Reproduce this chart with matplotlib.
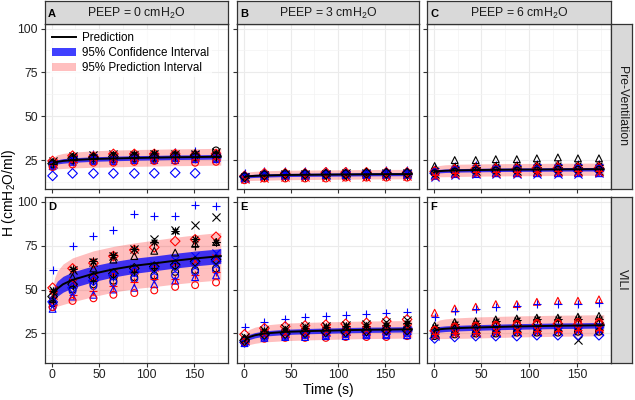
import numpy as np
import matplotlib
matplotlib.use("Agg")
import matplotlib.pyplot as plt
from matplotlib.lines import Line2D
from matplotlib.patches import Patch

plt.rcParams['font.family'] = ['Liberation Sans', 'DejaVu Sans']
plt.rcParams['mathtext.fontset'] = 'custom'
plt.rcParams['mathtext.rm'] = 'Liberation Sans'
plt.rcParams['mathtext.it'] = 'Liberation Sans:italic'

# observation times (s)
t_obs = [1, 22, 44, 65, 87, 108, 130, 151, 173]

# model curve sample times and values
t_curve = [1, 3, 6, 12, 22, 44, 65, 87, 110, 130, 150, 178]
pred_A = [22.8, 23.5, 24, 24.5, 25, 25.6, 25.9, 26.2, 26.4, 26.6, 26.7, 26.9]
pred_B = [15.3, 15.6, 15.8, 16.0, 16.2, 16.5, 16.6, 16.7, 16.8, 16.9, 16.95, 17.0]
pred_C = [18.2, 18.5, 18.7, 18.9, 19.1, 19.3, 19.45, 19.55, 19.6, 19.7, 19.75, 19.8]
pred_D = [45, 48, 50.5, 53, 55.5, 59, 61.5, 63.5, 65, 66.4, 67.6, 69]
pred_E = [20.5, 22, 23, 24, 25, 25.9, 26.3, 26.6, 26.9, 27.1, 27.2, 27.4]
pred_F = [26.5, 27, 27.4, 27.7, 28.0, 28.4, 28.7, 29.0, 29.2, 29.4, 29.5, 29.7]

# half widths of 95% confidence / prediction intervals
ci_A = [1.0, 1.1, 1.2, 1.3, 1.3, 1.3, 1.3, 1.3, 1.3, 1.3, 1.3, 1.3]
pi_A = [3.0, 3.6, 4.0, 4.3, 4.5, 4.7, 4.8, 4.8, 4.8, 4.8, 4.8, 4.8]
ci_B = [0.7, 0.8, 0.9, 0.9, 0.9, 0.9, 0.9, 0.9, 0.9, 0.9, 0.9, 0.9]
pi_B = [2.0, 2.3, 2.5, 2.6, 2.7, 2.7, 2.7, 2.7, 2.7, 2.7, 2.7, 2.7]
ci_C = [0.8, 0.9, 1.0, 1.0, 1.0, 1.0, 1.0, 1.0, 1.0, 1.0, 1.0, 1.0]
pi_C = [2.6, 3.0, 3.2, 3.4, 3.5, 3.5, 3.5, 3.5, 3.5, 3.5, 3.5, 3.5]
ci_D = [3.5, 4.0, 4.3, 4.5, 4.5, 4.5, 4.4, 4.3, 4.2, 4.2, 4.2, 4.2]
pi_D = [6.0, 8.5, 10.0, 11.5, 12.5, 13.0, 13.0, 13.0, 13.2, 13.3, 13.4, 13.5]
ci_E = [1.2, 1.4, 1.5, 1.5, 1.5, 1.5, 1.5, 1.5, 1.5, 1.5, 1.5, 1.5]
pi_E = [3.0, 3.8, 4.3, 4.6, 4.8, 5.0, 5.0, 5.0, 5.0, 5.0, 5.0, 5.0]
ci_F = [1.3, 1.5, 1.6, 1.6, 1.6, 1.6, 1.6, 1.6, 1.6, 1.6, 1.6, 1.6]
pi_F = [4.0, 4.8, 5.3, 5.6, 5.8, 6.0, 6.0, 6.0, 6.0, 6.0, 6.0, 6.0]

# subjects (marker, colour) per PEEP group
marks0 = [('+', 'blue'), ('x', 'black'), ('D', 'red'), ('*', 'black'), ('^', 'black'),
          ('x', 'blue'), ('x', 'red'), ('D', 'black'), ('o', 'black'), ('o', 'blue'),
          ('+', 'red'), ('^', 'blue'), ('o', 'red'), ('+', 'black'), ('D', 'blue')]
obs_A = [[24, 27, 28.5, 28, 28, 28.5, 29.5, 30, 29],
         [24.5, 27.5, 28, 28.5, 28, 28.5, 28.5, 28.5, 29.5],
         [24.5, 27.5, 27, 28.5, 28.5, 28.5, 28.5, 28, 28.5],
         [24, 27.5, 27, 28, 28.5, 29, 28.5, 28, 28.5],
         [23.5, 26.5, 27, 27.5, 28, 28, 28, 29, 28],
         [23, 25.5, 26, 26, 26.5, 26.5, 27, 27, 27],
         [23.5, 26, 25.5, 26.5, 27, 27, 27, 27.5, 27.5],
         [23, 26, 26.5, 27, 27, 27, 27.5, 27.5, 27.5],
         [22.5, 25, 25, 25.5, 26, 26, 26, 26.5, 30.5],
         [22, 24.5, 25, 25, 25.5, 25.5, 26, 26, 26],
         [22, 24, 25, 24.5, 25, 25.5, 25.5, 25.5, 25.5],
         [21.5, 24, 24.5, 24.5, 25, 25, 25, 25.5, 25.5],
         [21, 22.5, 23.5, 23.5, 24, 24.5, 24.5, 23.5, 24],
         [22.5, 25, 25.5, 26, 26, 26.5, 26.5, 26.5, 27],
         [16, 17.4, 17.4, 17.4, 17.4, 17.5, 17.8, 17.5, np.nan]]
obs_D = [[61, 75, 80.6, 83.9, 92.8, 91.8, 91.8, 98.1, 97.5],
         [50, 61, 65.5, 69, 73, 78.5, 84, 86.5, 91],
         [51, 62, 65, 69, 72.5, 74, 77.5, 78.5, 80],
         [49, 61.5, 66, 69.5, 73, 77, 83, 79, 77],
         [45, 57, 62, 67, 69, 72, 71, 76, 77],
         [44, 55, 58, 60, 62, 64, 67, 69, 71],
         [47, 54, 57, 59, 61, 63, 65, 66, 68],
         [46, 53, 57, 59, 62, 63, 64, 66, 67],
         [42, 50, 53, 55, 57, 58, 60, 61, 62],
         [40, 49, 52, 54, 56, 57, 58, 60, 61],
         [41, 47, 49, 52, 54, 56, 56, 58, 60],
         [39, 46, 47, 50, 51, 53, 55, 57, 58],
         [40, 43.5, 45, 47, 48, 49.5, 51.5, 52.5, 54],
         [43, 52, 55, 57, 60, 62, 65, 75, 77],
         [43, 51, 55, 58, 60, 62, 63, 65, 66]]

marks3 = [('+', 'blue'), ('D', 'red'), ('x', 'black'), ('^', 'black'), ('o', 'black'),
          ('+', 'red'), ('x', 'blue'), ('D', 'blue'), ('*', 'black'), ('o', 'red'),
          ('^', 'blue'), ('o', 'blue'), ('x', 'red'), ('D', 'black')]
obs_B = [[17.5, 18.5, 18.5, 19, 19, 19, 19, 19.5, 19.5],
         [16, 17.5, 17.5, 17.5, 18, 18, 18, 18, 18],
         [15.5, 16.5, 17, 17, 17, 17.5, 17.5, 17.5, 17.5],
         [16, 17, 17.5, 17.5, 17.5, 17.5, 18, 18, 18],
         [15, 16, 16.5, 16.5, 16.5, 17, 17, 17, 17],
         [14.5, 15.5, 16, 16, 16.5, 16.5, 16.5, 16.5, 16.5],
         [15, 16, 16.5, 16.5, 16.5, 16.5, 17, 17, 17],
         [15.5, 16.5, 16.5, 17, 17, 17, 17, 17.5, 17.5],
         [14.5, 15.5, 15.5, 15.5, 16, 16, 16, 16, 16],
         [13.5, 14.5, 14.5, 14.5, 14.5, 15, 15, 15, 15],
         [14.5, 16, 16, 16, 16.5, 16.5, 16.5, 16.5, 16.5],
         [15, 16, 16, 16.5, 16.5, 16.5, 16.5, 17, 17],
         [14, 15, 15.5, 15.5, 15.5, 15.5, 15.5, 16, 16],
         [15.5, 16.5, 17, 17, 17, 17, 17.5, 17.5, 17.5]]
obs_E = [[28.8, 31.6, 33.2, 34.1, 35.0, 35.3, 36.0, 36.8, 37.3],
         [24.5, 28, 29, 29.5, 30, 30.5, 31, 32, 33],
         [23, 27, 28, 29, 29.5, 30, 30.5, 31.5, 32.5],
         [22.5, 26, 27, 27.5, 28, 28.5, 29, 29.5, 30],
         [21.5, 25, 26, 26.5, 27, 27, 27.5, 27.5, 28],
         [22, 25.5, 26, 26.5, 27, 27.5, 27.5, 28, 28],
         [21, 24.5, 25.5, 25.5, 26, 26.5, 26.5, 27, 27],
         [20, 24, 24.5, 25, 25.5, 25.5, 26, 26.5, 26.5],
         [22, 26.5, 27, 28, 28.5, 29, 29.5, 30, 31],
         [20, 22, 22.5, 22.5, 22.5, 23, 23, 23, 23.5],
         [19.5, 22.5, 23, 23, 23.5, 23.5, 24, 24, 24],
         [19.5, 23, 23.5, 24, 24, 24.5, 24.5, 24.5, 25],
         [21.5, 25, 25.5, 26, 26.5, 26.5, 27, 27.5, 28],
         [21, 24.5, 25, 25.5, 26, 26, 26.5, 27, 27]]

marks6 = [('^', 'red'), ('+', 'blue'), ('^', 'black'), ('*', 'black'), ('o', 'red'),
          ('D', 'red'), ('x', 'black'), ('o', 'blue'), ('^', 'blue'), ('x', 'blue'),
          ('D', 'blue'), ('o', 'black'), ('+', 'red'), ('x', 'red')]
obs_C = [[19.5, 21, 21.5, 21.5, 22, 22, 22.5, 22, 22.5],
         [20.5, 21.5, 22, 22, 22, 22.5, 22.5, 22.5, 22.5],
         [21.6, 25, 25, 25.5, 25.5, 26, 26.5, 26, 26],
         [19.5, 21, 21, 21.5, 21.5, 22, 22, 22, 22],
         [18, 19, 19, 19.5, 19.5, 19.5, 19.5, 19.5, 20],
         [18.5, 19.5, 20, 20, 20, 20.5, 20.5, 20.5, 20.5],
         [17, 18, 18.5, 18.5, 18.5, 18.5, 19, 19, 19],
         [18, 19, 19, 19.5, 19.5, 19.5, 20, 20, 20],
         [16, 17, 17, 17.5, 17.5, 17.5, 17.5, 17.5, 17.5],
         [15.5, 16.5, 17, 17, 17, 17, 17, 17, 17.5],
         [17.5, 18.5, 18.5, 18.5, 19, 19, 19, 19, 19],
         [17.5, 18.5, 19, 19, 19, 19, 19.5, 19.5, 19.5],
         [16.5, 17.5, 18, 18, 18, 18, 18.5, 18.5, 18.5],
         [16, 17, 17.5, 17.5, 17.5, 18, 18, 18, 18]]
obs_F = [[36.8, 39.2, 40.2, 41.7, 41.7, 43, 43.6, 43.6, 44.4],
         [34.5, 37.5, 39, 40, 40.5, 42, 42, 41.5, 42.5],
         [29.5, 31.5, 32, 33, 33.5, 34, 34, 34.5, 35],
         [28.5, 30.5, 31, 32, 32.5, 33, 33, 33.5, 33.5],
         [27, 29, 29.5, 30, 30.5, 31, 31, 31.5, 31.5],
         [26.5, 28, 28.5, 29, 29.5, 30, 30.5, 30, 30.5],
         [25.5, 27, 27.5, 28, 28, 28.5, 28.5, 21.5, 29],
         [25, 26.5, 27, 27.5, 27.5, 28, 28, 28, 28.5],
         [24.5, 26, 26.5, 26.5, 27, 27, 27.5, 27.5, 27.5],
         [23.5, 25, 25.5, 25.5, 26, 26, 26.5, 26.5, 26.5],
         [22.2, 23, 23.5, 23.5, 23.5, 24, 24, 24, 24],
         [23.5, 24.5, 25, 25, 25.5, 25.5, 25.5, 26, 26],
         [24.5, 25, 25.5, 26, 26, 26.5, 26.5, 27, 27],
         [24, 25.5, 26, 26.5, 27, 27, 27.5, 27.5, 28]]

peep_labels = ['PEEP = 0 cmH$_2$O', 'PEEP = 3 cmH$_2$O', 'PEEP = 6 cmH$_2$O']
row_labels = ['Pre-Ventilation', 'VILI']
panel_letters = ['A', 'B', 'C', 'D', 'E', 'F']

W, H = 635, 400
fig = plt.figure(figsize=(W / 100, H / 100), dpi=100)


def px(x0, y0, x1, y1):
    return [x0 / W, 1 - y1 / H, (x1 - x0) / W, (y1 - y0) / H]


cols = [(45, 228), (237, 419), (427, 611)]
rows = [(24, 189), (197, 362.5)]
colors = {'black': 'black', 'red': '#FF0000', 'blue': '#0000FF'}
mk = {'o': 'o', '^': '^', '+': '+', 'x': 'x', 'D': 'D', '*': (8, 2, 0)}

panels = [
    (pred_A, ci_A, pi_A, marks0, obs_A), (pred_B, ci_B, pi_B, marks3, obs_B),
    (pred_C, ci_C, pi_C, marks6, obs_C), (pred_D, ci_D, pi_D, marks0, obs_D),
    (pred_E, ci_E, pi_E, marks3, obs_E), (pred_F, ci_F, pi_F, marks6, obs_F),
]

axes = []
for i, (pred, ci, pi, marks, obs) in enumerate(panels):
    r, c = divmod(i, 3)
    ax = fig.add_axes(px(cols[c][0], rows[r][0], cols[c][1], rows[r][1]))
    axes.append(ax)
    tc = np.array(t_curve)
    p = np.array(pred)
    ax.fill_between(tc, p - np.array(pi), p + np.array(pi), color='#FF0000', alpha=0.25, lw=0, zorder=1)
    ax.fill_between(tc, p - np.array(ci), p + np.array(ci), color='#0000FF', alpha=0.75, lw=0, zorder=2)
    for (m, col), vals in zip(marks, obs):
        if m in ('+', 'x'):
            ax.scatter(t_obs, vals, marker=mk[m], s=34, c=colors[col], linewidths=0.8, zorder=3)
        elif m == '*':
            ax.scatter(t_obs, vals, marker=mk[m], s=26, c=colors[col], linewidths=0.7, zorder=3)
        else:
            ax.scatter(t_obs, vals, marker=mk[m], s=24, facecolors='none', edgecolors=colors[col],
                       linewidths=0.8, zorder=3)
    ax.plot(tc, p, color='black', lw=1.4, zorder=4)

    ax.set_xlim(-7, 185.6)
    ax.set_ylim(8.5, 102.6)
    ax.set_xticks([0, 50, 100, 150])
    ax.set_xticks([25, 75, 125, 175], minor=True)
    ax.set_yticks([25, 50, 75, 100])
    ax.set_yticks([12.5, 37.5, 62.5, 87.5], minor=True)
    ax.grid(which='major', color='#EBEBEB', lw=0.8, zorder=0)
    ax.grid(which='minor', color='#F3F3F3', lw=0.5, zorder=0)
    ax.set_axisbelow(True)
    for s in ax.spines.values():
        s.set_color('#333333')
        s.set_linewidth(0.9)
    ax.tick_params(which='minor', length=0)
    ax.tick_params(which='major', length=3, width=0.8, color='#333333',
                   labelsize=8.8, labelcolor='#222222', pad=2)
    if r == 0:
        ax.tick_params(labelbottom=False)
    if c > 0:
        ax.tick_params(labelleft=False)
    if r == 1:
        ax.text(3 / 183, 1 - 5 / 165, panel_letters[i], transform=ax.transAxes,
                ha='left', va='top', fontsize=8, fontweight='bold')

# top strips
for c in range(3):
    sa = fig.add_axes(px(cols[c][0], 1, cols[c][1], 24))
    sa.set_facecolor('#D9D9D9')
    sa.set_xticks([])
    sa.set_yticks([])
    for s in sa.spines.values():
        s.set_color('#333333')
        s.set_linewidth(0.9)
    sa.text(0.5, 0.45, peep_labels[c], transform=sa.transAxes, ha='center', va='center',
            fontsize=8.8, color='#1A1A1A')
    sa.text(3 / 183, 0.45, panel_letters[c], transform=sa.transAxes, ha='left', va='center',
            fontsize=8, fontweight='bold')

# right strips
for r in range(2):
    sa = fig.add_axes(px(611, rows[r][0], 632, rows[r][1]))
    sa.set_facecolor('#D9D9D9')
    sa.set_xticks([])
    sa.set_yticks([])
    for s in sa.spines.values():
        s.set_color('#333333')
        s.set_linewidth(0.9)
    sa.text(0.5, 0.5, row_labels[r], transform=sa.transAxes, ha='center', va='center',
            rotation=-90, fontsize=8.8, color='#1A1A1A')

# legend inside panel A
handles = [Line2D([0], [0], color='black', lw=1.4),
           Patch(facecolor='#0000FF', alpha=0.75, lw=0),
           Patch(facecolor='#FF0000', alpha=0.25, lw=0)]
leg = axes[0].legend(handles, ['Prediction', '95% Confidence Interval', '95% Prediction Interval'],
                     loc='upper left', bbox_to_anchor=(5 / 183, 1 - 6 / 165), frameon=True,
                     fontsize=8.4, handlelength=2.0, handleheight=0.7, labelspacing=0.25,
                     borderpad=0.2, handletextpad=0.55, borderaxespad=0)
leg.get_frame().set_facecolor('white')
leg.get_frame().set_edgecolor('none')
leg.get_frame().set_boxstyle('square', pad=0)
leg.set_zorder(10)

fig.text(9 / W, 1 - 193 / H, 'H (cmH$_2$O/ml)', rotation=90, ha='center', va='center', fontsize=10)
fig.text(328 / W, 1 - 390 / H, 'Time (s)', ha='center', va='center', fontsize=10)

fig.savefig('out.png', dpi=100)
